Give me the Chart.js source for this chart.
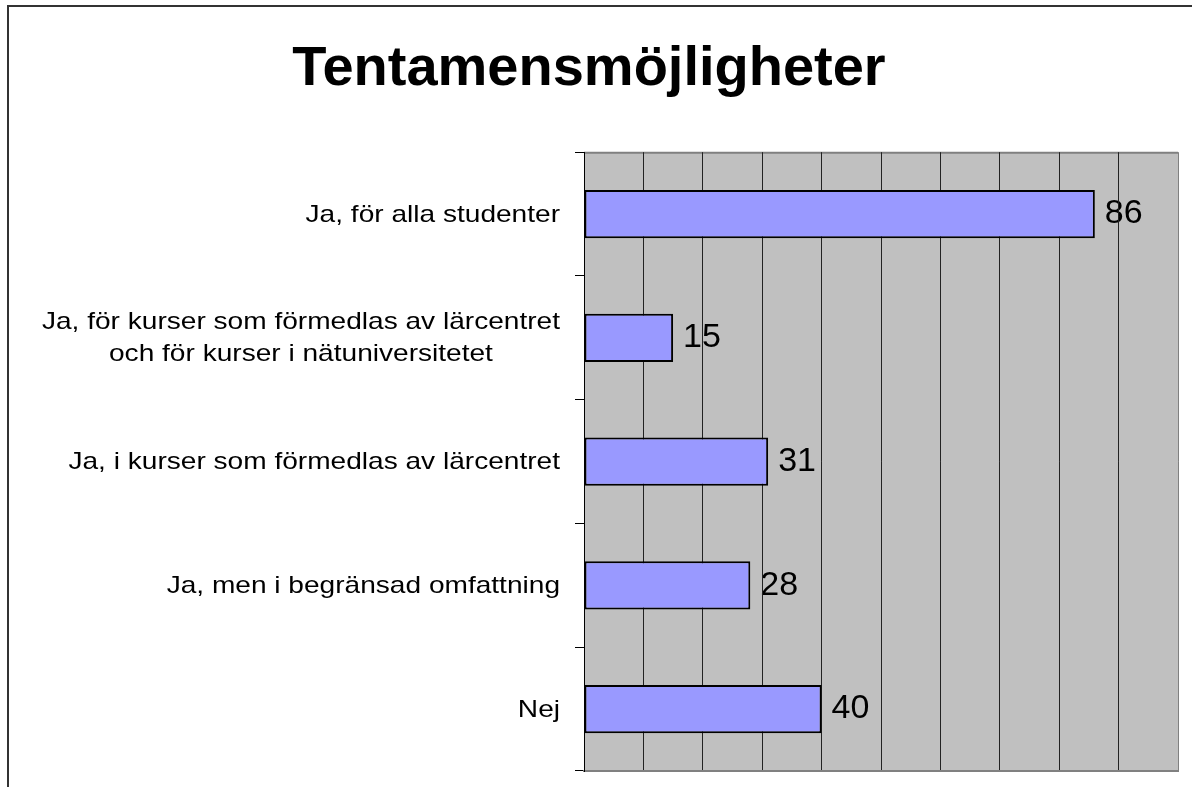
<!DOCTYPE html>
<html>
<head>
<meta charset="utf-8">
<script src="https://cdn.jsdelivr.net/npm/chart.js@4.4.1/dist/chart.umd.min.js"></script>
<style>
  html, body { margin: 0; padding: 0; background: #ffffff; overflow: hidden; }
  #frame { position: absolute; left: 7px; top: 5px; width: 1300px; height: 900px;
           border-left: 2px solid #333333; border-top: 2px solid #333333; }
  #wrap { position: absolute; left: 0; top: 0; width: 1192px; height: 787px; }
</style>
</head>
<body>
<div id="frame"></div>
<div id="wrap"><canvas id="c"></canvas></div>
<script>
const titleText = 'Tentamensmöjligheter';
const categories = [
  ['Ja, för alla studenter'],
  ['Ja, för kurser som förmedlas av lärcentret', 'och för kurser i nätuniversitetet'],
  ['Ja, i kurser som förmedlas av lärcentret'],
  ['Ja, men i begränsad omfattning'],
  ['Nej']
];
const values = [86, 15, 31, 28, 40];
const xMin = 0, xMax = 100, xStep = 10;

const FONT = "'Liberation Sans', Arial, sans-serif";

const decorPlugin = {
  id: 'decor',
  beforeDraw(chart) {
    const ctx = chart.ctx;
    const a = chart.chartArea;
    ctx.save();
    ctx.fillStyle = '#C0C0C0';
    ctx.fillRect(a.left, a.top, a.right - a.left, a.bottom - a.top);
    ctx.strokeStyle = '#808080';
    ctx.lineWidth = 2;
    ctx.beginPath();
    ctx.moveTo(a.left, a.top + 0.5);
    ctx.lineTo(a.right, a.top + 0.5);
    ctx.stroke();
    const meta = chart.getDatasetMeta(0);
    ctx.fillStyle = '#000000';
    ctx.font = '34px ' + FONT;
    ctx.textAlign = 'left';
    ctx.textBaseline = 'middle';
    meta.data.forEach((bar, i) => {
      ctx.fillText(String(values[i]), bar.x + 10, bar.y);
    });
    const yScale = chart.scales.y;
    ctx.font = '24px ' + FONT;
    ctx.textAlign = 'center';
    const sx = 1.17;
    const rightEdge = yScale.right - 24;
    const lineH = 32;
    categories.forEach((lines, i) => {
      const y = yScale.getPixelForValue(i);
      let w = 0;
      lines.forEach(l => { w = Math.max(w, ctx.measureText(l).width * sx); });
      const cx = rightEdge - w / 2;
      lines.forEach((l, j) => {
        const dy = (j - (lines.length - 1) / 2) * lineH;
        ctx.save();
        ctx.translate(cx, y + dy + 1);
        ctx.scale(sx, 1);
        ctx.fillText(l, 0, 0);
        ctx.restore();
      });
    });
    ctx.restore();
  }
};

new Chart(document.getElementById('c'), {
  type: 'bar',
  data: {
    labels: categories,
    datasets: [{
      data: values,
      backgroundColor: '#9999FF',
      borderColor: '#000000',
      borderWidth: 2,
      borderSkipped: false,
      barPercentage: 0.39,
      categoryPercentage: 1.0
    }]
  },
  options: {
    indexAxis: 'y',
    responsive: true,
    maintainAspectRatio: false,
    animation: false,
    devicePixelRatio: 1,
    layout: { padding: { left: 0, right: 14, top: 0, bottom: 16 } },
    plugins: {
      legend: { display: false },
      tooltip: { enabled: false },
      title: {
        display: true,
        text: titleText,
        color: '#000000',
        font: { family: FONT, size: 56, weight: 'bold' },
        padding: { top: 36, bottom: 49 }
      }
    },
    scales: {
      x: {
        type: 'linear',
        min: xMin,
        max: xMax,
        ticks: { display: false, stepSize: xStep },
        grid: {
          drawTicks: false,
          lineWidth: 1,
          color: (c) => (c.tick && c.tick.value === xMax) ? '#808080' : '#222222'
        },
        border: { display: true, color: '#808080', width: 2 }
      },
      y: {
        type: 'category',
        ticks: { display: false },
        grid: {
          drawOnChartArea: false,
          drawTicks: true,
          tickLength: 9,
          color: '#000000',
          lineWidth: 1,
          offset: true
        },
        border: { display: true, color: '#000000', width: 1 },
        afterFit: (scale) => { scale.width = 584; }
      }
    }
  },
  plugins: [decorPlugin]
});
</script>
</body>
</html>
